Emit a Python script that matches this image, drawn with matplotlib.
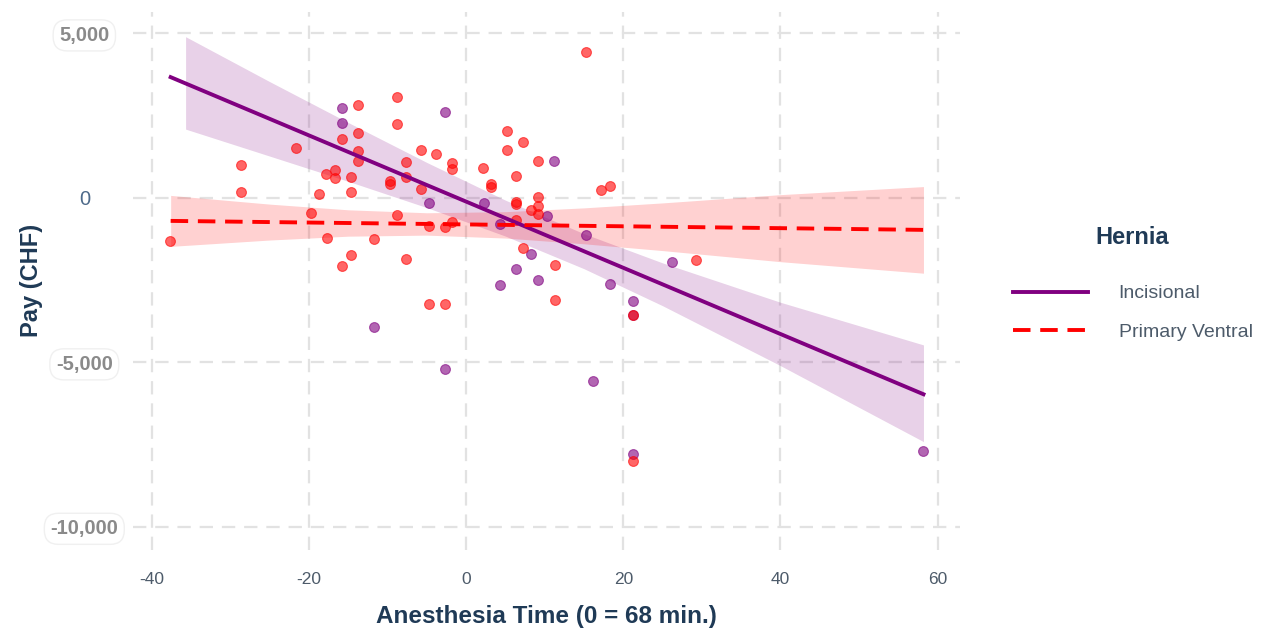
import matplotlib
matplotlib.use("Agg")
import matplotlib.pyplot as plt
from matplotlib.lines import Line2D

plt.rcParams["font.family"] = ["Liberation Sans", "DejaVu Sans"]
plt.rcParams["axes.unicode_minus"] = False

# points
incisional_x = [-15.8, -15.8, -4.7, -2.7, 11.2, 2.3, 10.3, 4.3, 8.3, 6.3, 9.2,
                 4.3, -11.7, -2.7, 15.2, 18.3, 26.2, 21.2, 21.2, 16.2, 21.2, 58.2]
incisional_y = [2745, 2289, -167, 2599, 1125, -158, -538, -790, -1708, -2152, -2499,
                -2654, -3912, -5208, -1116, -2605, -1955, -3131, -3572, -5563, -7773, -7691]

ventral_x = [-13.8, -8.8, -8.8, -15.8, -13.8, -13.8, -13.8, -21.7, -28.7, -28.7,
             -17.8, -16.7, -16.7, -14.7, -14.7, -18.7, -9.7, -9.7, -7.7, -7.7,
             -5.7, -3.8, -5.7, -19.7, -8.8, -4.7, -37.7, -17.7, -11.7, -14.7,
             -15.8, -7.7, -4.7, -2.7, -1.8, -1.8, 5.2, 7.3, 5.2, 9.2,
             2.2, 3.2, 3.2, 6.3, 6.3, 6.3, 9.2, 9.2, 9.2, 8.3,
             -2.7, -1.8, 6.3, 7.3, 11.3, 11.3, 15.3, 17.2, 18.3, 29.2,
             21.2, 21.2]
ventral_y = [2827, 3070, 2259, 1803, 1967, 1438, 1116, 1511, 994, 182,
             730, 851, 608, 629, 182, 131, 508, 426, 1085, 629,
             1459, 1338, 274, -447, -508, -842, -1298, -1216, -1246, -1742,
             -2067, -1864, -3222, -3232, 1049, 876, 2037, 1693, 1468, 1134,
             903, 416, 344, 669, -122, -182, 15, -243, -492, -365,
             -872, -736, -669, -1535, -2037, -3116, 4448, 234, 356, -1894,
             -3572, -7995]

# fitted lines and confidence bands
inc_line_x = [-37.6, 58.2]
inc_line_y = [3670, -5970]
inc_band_x = [-35.7, -25, -15, -5, 5, 15, 25, 40, 58.2]
inc_band_lo = [2090, 1270, 502, -296, -1162, -2154, -3279, -5100, -7410]
inc_band_hi = [4900, 3534, 2290, 1076, -70, -1090, -1977, -3174, -4470]

ven_line_x = [-37.6, 58.2]
ven_line_y = [-700, -973]
ven_band_x = [-37.6, -25, -15, -5, 5, 15, 25, 40, 58.2]
ven_band_lo = [-1475, -1282, -1165, -1133, -1222, -1396, -1603, -1940, -2290]
ven_band_hi = [75, -190, -363, -453, -420, -304, -153, 98, 343]

x_ticks = [-40, -20, 0, 20, 40, 60]
y_ticks = [5000, 0, -5000, -10000]
y_tick_labels = ["5,000", "0", "-5,000", "-10,000"]

purple = "#800080"
red = "#ff0000"
navy = "#1f3a56"

fig = plt.figure(figsize=(12.66, 6.32), dpi=100)
ax = fig.add_axes([0.105, 0.13, 0.653, 0.851])

ax.fill_between(inc_band_x, inc_band_lo, inc_band_hi, color=purple, alpha=0.18, lw=0)
ax.fill_between(ven_band_x, ven_band_lo, ven_band_hi, color=red, alpha=0.18, lw=0)

ax.scatter(incisional_x, incisional_y, s=50, color=purple, alpha=0.6, lw=0.8, zorder=3)
ax.scatter(ventral_x, ventral_y, s=50, color=red, alpha=0.6, lw=0.8, zorder=3)

ax.plot(inc_line_x, inc_line_y, color=purple, lw=2.8, zorder=4)
ax.plot(ven_line_x, ven_line_y, color=red, lw=2.8, dashes=(4.5, 2.5), zorder=4)

ax.set_xlim(-42.4, 62.8)
ax.set_ylim(-10700, 5650)
ax.set_xticks(x_ticks)
ax.set_yticks(y_ticks)
ax.set_yticklabels(y_tick_labels)

ax.grid(True, color="#e2e2e2", lw=1.6, dashes=(6, 4))
ax.set_axisbelow(True)
for s in ax.spines.values():
    s.set_visible(False)
ax.tick_params(length=0)
ax.tick_params(axis="x", pad=16, labelsize=12.5, labelcolor="#4d5b6a")
ax.tick_params(axis="y", pad=35, labelsize=14.5)

for lbl in ax.get_yticklabels():
    lbl.set_horizontalalignment("center")
    if lbl.get_text() == "0":
        lbl.set_color("#4e6a8a")
    else:
        lbl.set_color("#8a8a8a")
        lbl.set_fontweight("bold")
        lbl.set_bbox(dict(boxstyle="round,pad=0.3,rounding_size=0.7",
                          fc="white", ec="#f0f0f0", lw=1))

ax.set_xlabel("Anesthesia Time (0 = 68 min.)", fontsize=17.5, fontweight="bold",
              color=navy, labelpad=13)
ax.set_ylabel("Pay (CHF)", fontsize=17, fontweight="bold", color=navy, labelpad=5)

handles = [Line2D([], [], color=purple, lw=2.8),
           Line2D([], [], color=red, lw=2.8, dashes=(4.5, 2.5))]
leg = fig.legend(handles, ["Incisional", "Primary Ventral"], title="Hernia",
                 loc="center left", bbox_to_anchor=(0.786, 0.552), frameon=False,
                 fontsize=14, handlelength=3.9, handletextpad=1.55, labelspacing=1.05,
                 title_fontproperties={"weight": "bold", "size": 17})
leg.get_title().set_color(navy)
leg._legend_box.sep = 26
for t in leg.get_texts():
    t.set_color("#4d5b6a")

fig.savefig("out.png", dpi=100)
